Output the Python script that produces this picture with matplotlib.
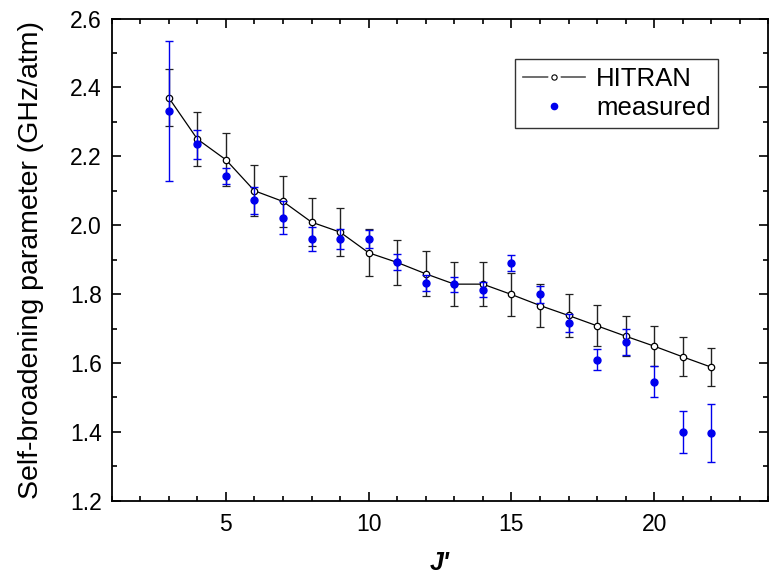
import matplotlib
matplotlib.use("Agg")
import matplotlib.pyplot as plt
from matplotlib.ticker import MultipleLocator, FormatStrFormatter
from matplotlib.lines import Line2D
from matplotlib.legend_handler import HandlerTuple

plt.rcParams['font.family'] = ['Liberation Sans', 'DejaVu Sans']

J = [3, 4, 5, 6, 7, 8, 9, 10, 11, 12, 13, 14, 15, 16, 17, 18, 19, 20, 21, 22]
hitran = [2.370, 2.250, 2.190, 2.100, 2.069, 2.009, 1.980, 1.920, 1.892, 1.859,
          1.829, 1.829, 1.799, 1.767, 1.738, 1.708, 1.678, 1.649, 1.618, 1.588]
hitran_err = [0.083, 0.078, 0.077, 0.074, 0.073, 0.070, 0.070, 0.068, 0.065, 0.065,
              0.064, 0.064, 0.063, 0.062, 0.061, 0.060, 0.058, 0.058, 0.057, 0.056]
measured = [2.331, 2.235, 2.144, 2.073, 2.022, 1.960, 1.960, 1.960, 1.894, 1.833,
            1.829, 1.813, 1.890, 1.799, 1.717, 1.610, 1.661, 1.545, 1.401, 1.396]
measured_err = [0.203, 0.042, 0.023, 0.039, 0.048, 0.036, 0.029, 0.027, 0.023, 0.023,
                0.022, 0.022, 0.023, 0.025, 0.026, 0.030, 0.038, 0.045, 0.061, 0.084]

fig = plt.figure(figsize=(7.73, 5.79), dpi=100)
ax = fig.add_axes([0.1445, 0.135, 0.8495, 0.833])

ax.errorbar(J, hitran, yerr=hitran_err, fmt='-o', color='black', ecolor='#222222',
            elinewidth=1.0, capsize=3, capthick=1.0, lw=0.9, ms=4.6,
            mfc='white', mec='black', mew=0.9, zorder=2)
ax.errorbar(J, measured, yerr=measured_err, fmt='o', color='#0000ee', ecolor='#0000ee',
            elinewidth=1.0, capsize=3, capthick=1.0, ms=5, mec='#0000ee', zorder=3)

ax.set_xlim(1, 24)
ax.set_ylim(1.2, 2.6)
ax.xaxis.set_major_locator(MultipleLocator(5))
ax.xaxis.set_minor_locator(MultipleLocator(1))
ax.yaxis.set_major_locator(MultipleLocator(0.2))
ax.yaxis.set_minor_locator(MultipleLocator(0.1))
ax.yaxis.set_major_formatter(FormatStrFormatter('%.1f'))

ax.tick_params(which='both', direction='in', top=True, right=True, width=1.2,
               labelsize=16.5)
ax.tick_params(which='major', length=6.5)
ax.tick_params(which='minor', length=3.5)
ax.tick_params(axis='x', pad=9)
ax.tick_params(axis='y', pad=7)
for s in ax.spines.values():
    s.set_linewidth(1.3)

ax.set_ylabel('Self-broadening parameter (GHz/atm)', fontsize=20.5)
ax.yaxis.set_label_coords(-0.103, 0.5)
ax.set_xlabel("J'", fontsize=18, fontweight='bold', fontstyle='italic')
ax.xaxis.set_label_coords(0.5, -0.105)

h_line = Line2D([], [], color='#555555', lw=1.2, marker='o', ms=9,
                mfc='white', mec='white', mew=0)
h_mark = Line2D([], [], ls='none', marker='o', ms=3.8, mfc='white',
                mec='black', mew=0.8)
h_meas = Line2D([], [], ls='none', marker='o', color='#0000ee', ms=4.5)
leg = ax.legend([(h_line, h_mark), h_meas], ['HITRAN', 'measured'],
                handler_map={tuple: HandlerTuple(ndivide=1, pad=0)},
                loc='upper right', bbox_to_anchor=(0.924, 0.916), fontsize=18.5,
                frameon=True, fancybox=False, edgecolor='black', borderpad=0.3,
                handlelength=2.4, handletextpad=0.45, labelspacing=0.2,
                borderaxespad=0.0)
leg.get_frame().set_linewidth(1.0)

fig.savefig('out.png', dpi=100)
